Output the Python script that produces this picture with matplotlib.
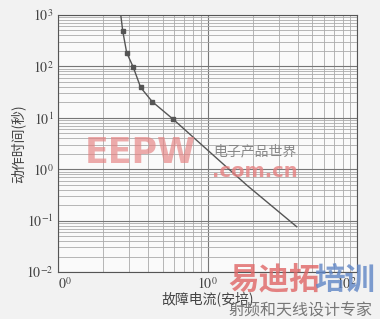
import numpy as np
import matplotlib.pyplot as plt

# values (log-log time-current curve)
current = [2.63, 2.71, 2.88, 3.19, 3.57, 4.27, 5.9, 8.9, 18.3, 39.5]
op_time = [1000, 489, 185, 96, 39, 20.6, 9.35, 3.2, 0.49, 0.076]
mark_current = [2.71, 2.88, 3.19, 3.57, 4.27, 5.9]
mark_time = [489, 185, 96, 39, 20.6, 9.35]

xticks = [1, 10, 100]
xticklabels = ["$0^0$", "$10^0$", "$10^2$"]
yticks = [1e-2, 1e-1, 1, 10, 100, 1000]
yticklabels = ["$10^{-2}$", "$10^{-1}$", "$10^0$", "$10^1$", "$10^2$", "$10^3$"]

plt.rcParams["mathtext.fontset"] = "stix"
cjk = ["Noto Sans CJK SC", "DejaVu Sans"]

fig = plt.figure(figsize=[3.8, 3.19], dpi=100, facecolor="#f2f2f2")
ax = fig.add_axes([0.1526, 0.1473, 0.787, 0.8056])
ax.set_facecolor("#fafafa")
ax.set_xscale("log")
ax.set_yscale("log")
ax.set_xlim(1, 100)
ax.set_ylim(1e-2, 1e3)

ax.grid(which="major", color="#777777", lw=0.8)
ax.grid(which="minor", color="#aaaaaa", lw=0.6)

ax.plot(current, op_time, color="#555555", lw=1.0)
ax.plot(mark_current, mark_time, "s", color="#555555", markersize=3)

ax.set_xticks(xticks)
ax.set_xticklabels(xticklabels, fontsize=10, color="#444444")
ax.set_yticks(yticks)
ax.set_yticklabels(yticklabels, fontsize=10, color="#444444")
ax.tick_params(which="both", length=0, pad=3)
ax.get_xticklabels()[0].set_horizontalalignment("left")
ax.get_xticklabels()[-1].set_horizontalalignment("right")
for s in ax.spines.values():
    s.set_color("#555555")
    s.set_linewidth(0.8)

ax.set_xlabel("故障电流(安培)", family=cjk, fontsize=10, color="#444444", labelpad=0)
ax.set_ylabel("动作时间(秒)", family=cjk, fontsize=10, color="#444444", labelpad=1)

# watermarks
fig.text(0.222, 0.468, "EEPW", fontsize=25, weight="bold", color="#e58080", alpha=0.65, va="bottom")
fig.text(0.56, 0.505, "电子产品世界", family=cjk, fontsize=10, style="italic", color="#888888", va="bottom")
fig.text(0.558, 0.432, ".com.cn", fontsize=14, weight="bold", color="#e58080", alpha=0.8, va="bottom")
fig.text(0.60, 0.07, "易迪拓", family=cjk, fontsize=22, weight="bold", color="#e06565", alpha=0.8, va="bottom")
fig.text(0.827, 0.07, "培训", family=cjk, fontsize=22, weight="bold", color="#5f85c5", alpha=0.8, va="bottom")
fig.text(0.60, 0.0, "射频和天线设计专家", family=cjk, fontsize=11.5, color="#777777", va="bottom")

plt.savefig("out.png", dpi=100, facecolor=fig.get_facecolor())
plt.close()
